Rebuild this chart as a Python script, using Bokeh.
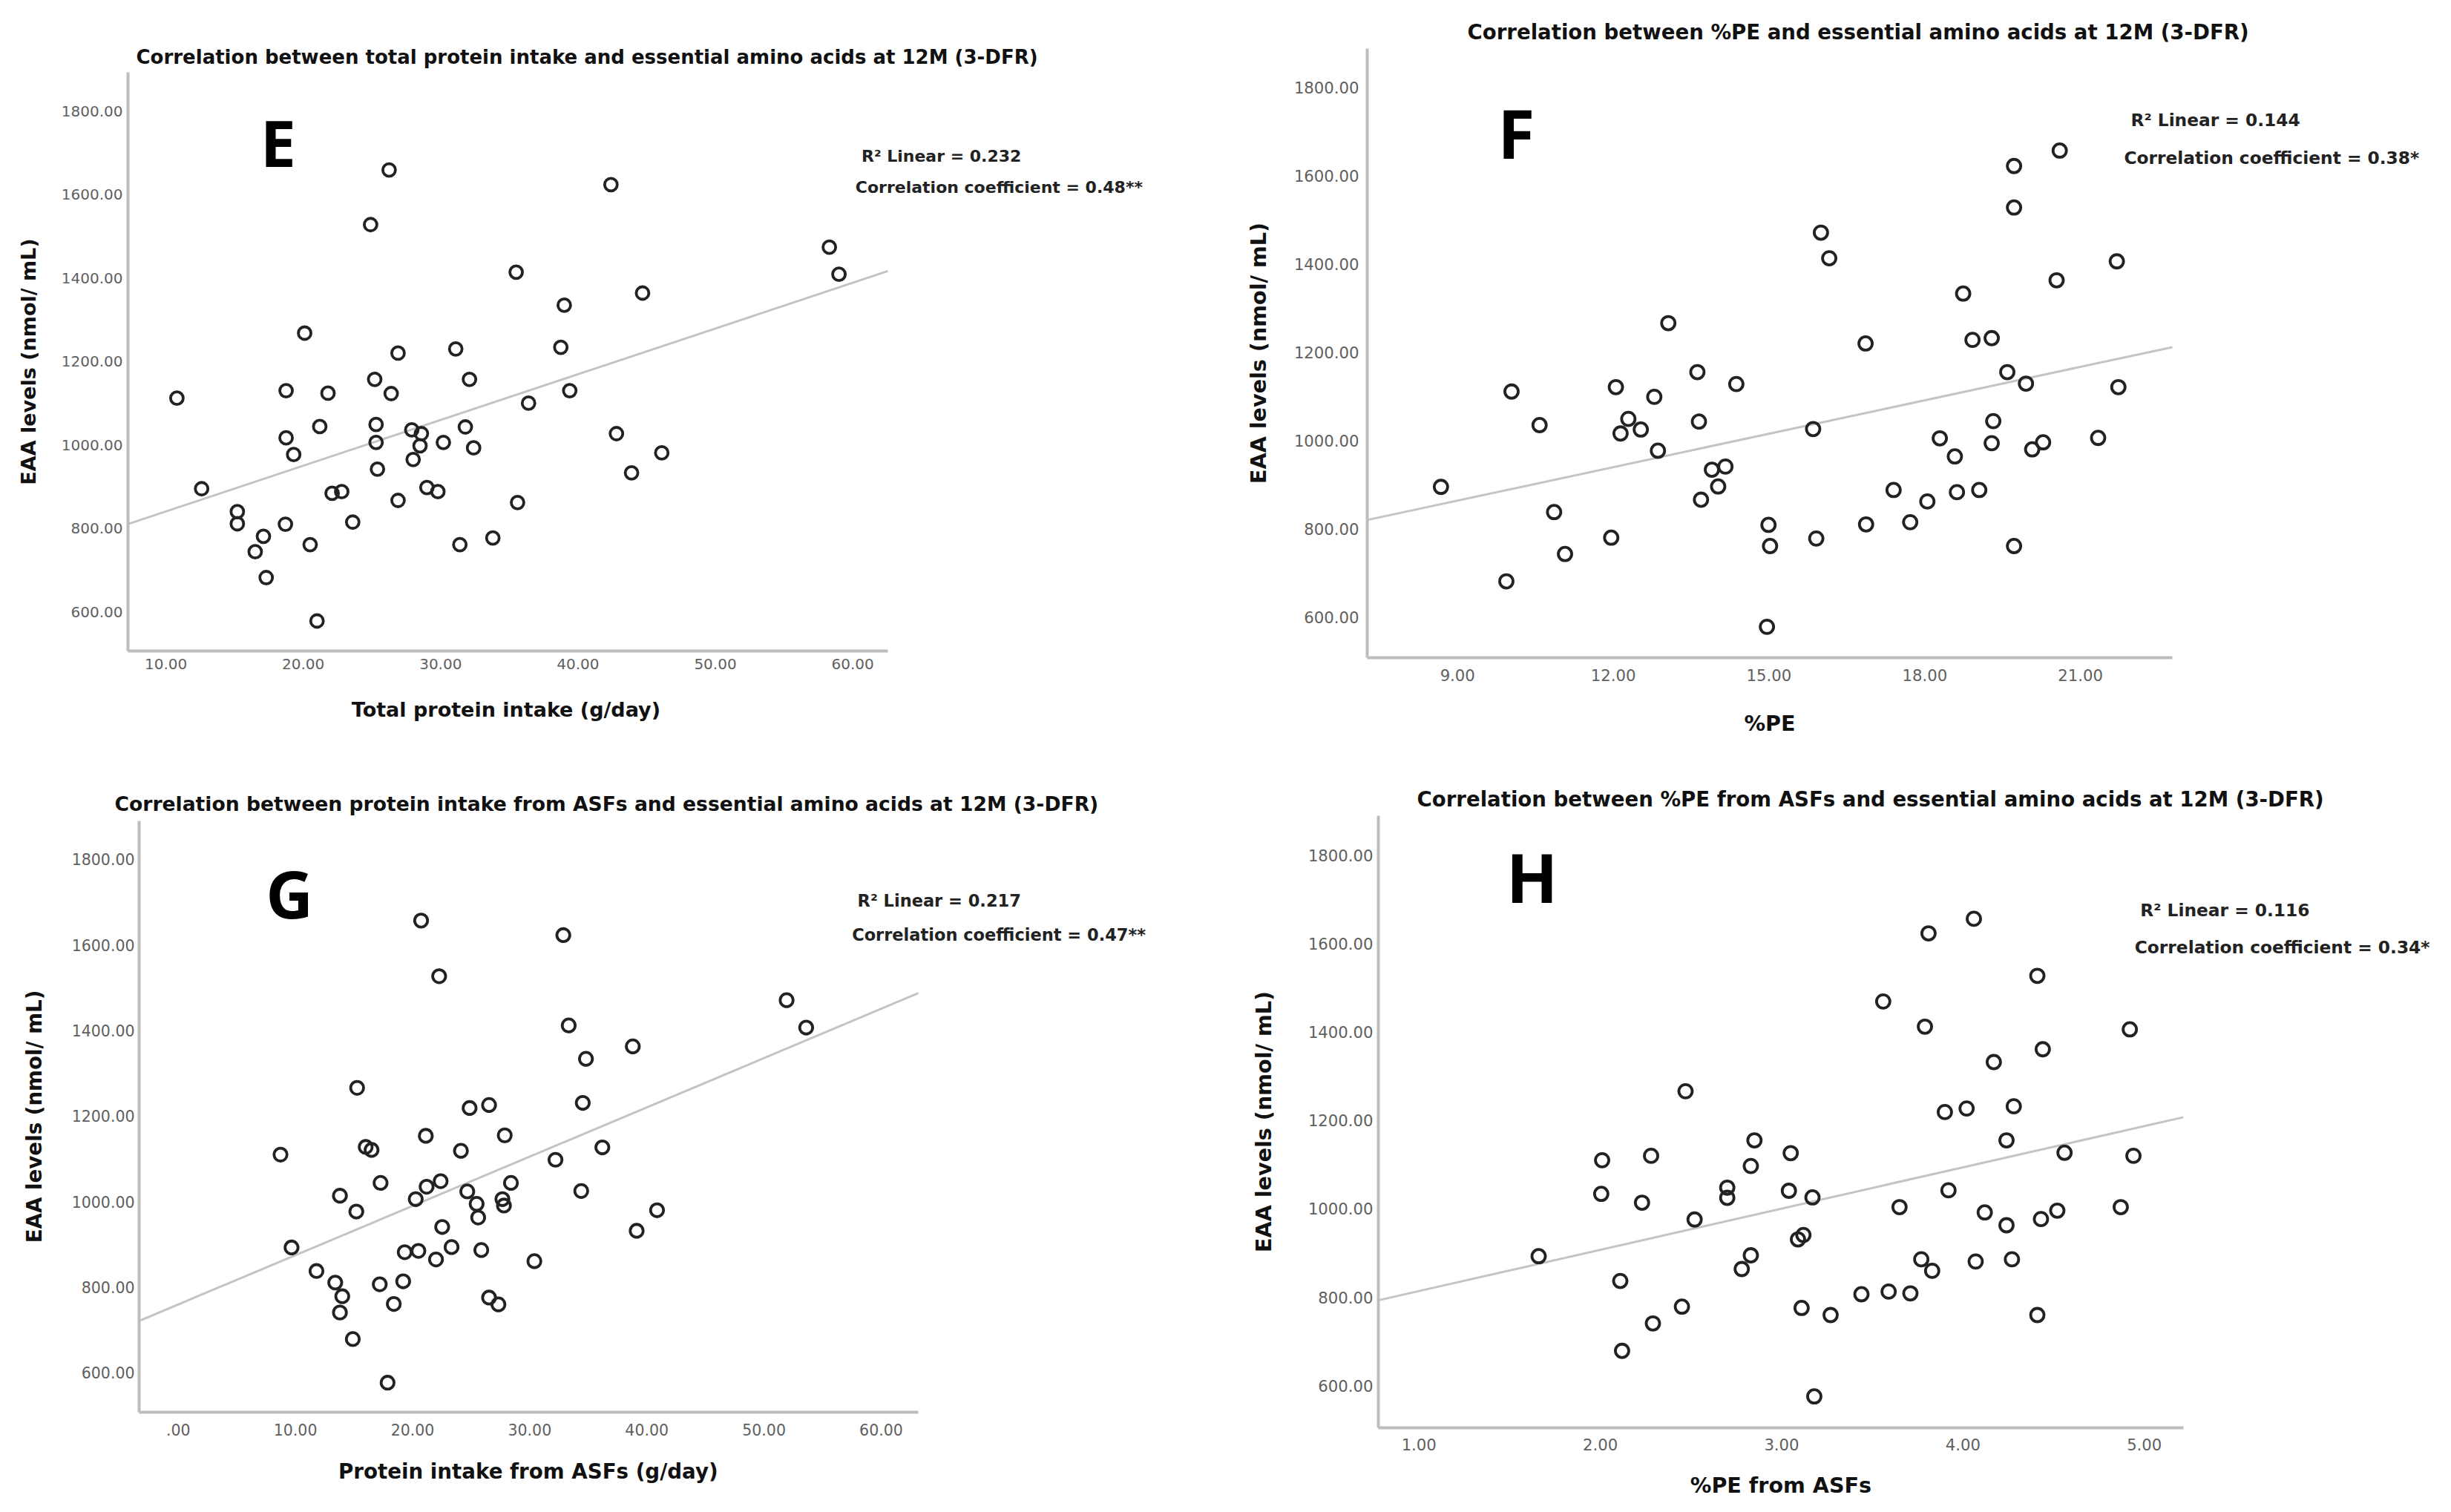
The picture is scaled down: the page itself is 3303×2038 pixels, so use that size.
import numpy as np
from bokeh.plotting import figure
from bokeh.layouts import column, row
from bokeh.models import Label, FixedTicker, Range1d, Title
from bokeh.embed import file_html
from bokeh.resources import INLINE

# ---- data (EAA in nmol/mL) ----
e_x = [10.8, 12.6, 15.2, 15.2, 17.1, 16.5, 17.3, 18.7, 18.75, 18.75, 19.3, 20.1, 20.5, 21.0,
       21.2, 21.8, 22.1, 22.8, 23.6, 24.9, 25.2, 25.3, 25.3, 25.4, 26.25, 26.4, 26.9, 26.9,
       27.9, 28.0, 28.6, 28.5, 29.0, 29.8, 30.2, 31.1, 31.4, 31.8, 32.1, 32.4, 33.8, 35.5,
       35.6, 36.4, 38.75, 39.0, 39.4, 42.4, 42.8, 43.9, 44.7, 46.1, 58.3, 59.0]
e_y = [1112, 895, 840, 811, 781, 744, 682, 810, 1130, 1017, 977, 1268, 761, 578,
       1044, 1124, 884, 888, 815, 1528, 1157, 1049, 1006, 942, 1659, 1123, 1220, 867,
       1036, 965, 1027, 998, 898, 888, 1006, 1230, 761, 1043, 1157, 993, 777, 1414,
       862, 1100, 1234, 1335, 1130, 1624, 1027, 933, 1364, 981, 1474, 1409]

f_x = [8.68, 9.94, 10.04, 10.58, 10.86, 11.07, 11.96, 12.05, 12.14, 12.29, 12.53, 12.79,
       12.86, 13.06, 13.62, 13.65, 13.69, 13.9, 14.02, 14.16, 14.37, 14.96, 14.99, 15.02,
       15.85, 15.91, 16.0, 16.16, 16.86, 16.87, 17.4, 17.72, 18.05, 18.29, 18.58, 18.62,
       18.74, 18.92, 19.05, 19.29, 19.29, 19.32, 19.59, 19.72, 19.72, 19.72, 19.95, 20.07,
       20.28, 20.54, 20.6, 21.34, 21.7, 21.73]
f_y = [895, 681, 1111, 1035, 838, 743, 780, 1121, 1016, 1049, 1025, 1099,
       977, 1266, 1155, 1043, 866, 934, 896, 941, 1128, 578, 809, 761,
       1026, 778, 1471, 1413, 1220, 810, 888, 815, 862, 1005, 964, 883,
       1333, 1228, 888, 994, 1232, 1044, 1155, 1622, 1528, 761, 1129, 980,
       996, 1363, 1657, 1006, 1406, 1121]

g_x = [8.73, 9.67, 11.8, 13.4, 13.8, 14.0, 13.8, 14.9, 15.2, 15.27, 16.0, 16.5, 17.2, 17.27,
       17.87, 18.4, 19.2, 19.33, 20.27, 20.5, 20.73, 21.13, 21.2, 22.0, 22.27, 22.4, 22.53,
       23.33, 24.13, 24.67, 24.87, 25.47, 25.6, 25.87, 26.53, 26.53, 27.33, 27.67, 27.8,
       27.87, 28.4, 30.4, 32.2, 32.87, 33.33, 34.4, 34.53, 34.8, 36.2, 38.8, 39.13, 40.87,
       51.93, 53.6]
g_y = [1110, 893, 838, 811, 1014, 779, 741, 679, 977, 1266, 1128, 1121, 807, 1044,
       577, 761, 814, 882, 1006, 885, 1657, 1154, 1035, 865, 1527, 1048, 941,
       894, 1119, 1024, 1219, 995, 963, 887, 1226, 776, 760, 1006, 991,
       1155, 1044, 861, 1098, 1623, 1412, 1025, 1231, 1334, 1127, 1363, 932, 980,
       1471, 1407]

h_x = [1.66, 2.01, 2.005, 2.11, 2.12, 2.23, 2.28, 2.29, 2.45, 2.47, 2.52, 2.70, 2.70, 2.78,
       2.83, 2.83, 2.85, 3.04, 3.05, 3.09, 3.12, 3.11, 3.17, 3.18, 3.27, 3.44, 3.56, 3.59,
       3.65, 3.71, 3.77, 3.79, 3.81, 3.83, 3.90, 3.92, 4.02, 4.06, 4.07, 4.12, 4.17, 4.24,
       4.24, 4.27, 4.28, 4.41, 4.41, 4.43, 4.44, 4.52, 4.56, 4.87, 4.92, 4.94]
h_y = [893, 1110, 1034, 837, 679, 1014, 1120, 741, 779, 1266, 976, 1025, 1048, 864,
       1097, 895, 1155, 1041, 1126, 931, 941, 776, 1026, 576, 760, 807, 1469, 813,
       1004, 809, 886, 1412, 1623, 860, 1219, 1042, 1227, 1656, 881, 992, 1332, 1155,
       963, 886, 1232, 1527, 760, 977, 1361, 996, 1127, 1004, 1406, 1120]

# ---- texts and ticks ----
y_ticks = [600, 800, 1000, 1200, 1400, 1600, 1800]
e_ticks = [10, 20, 30, 40, 50, 60]
f_ticks = [9, 12, 15, 18, 21]
g_ticks = [0, 10, 20, 30, 40, 50, 60]
h_ticks = [1, 2, 3, 4, 5]

titles = [
    "Correlation between total protein intake and essential amino acids at 12M (3-DFR)",
    "Correlation between %PE and essential amino acids at 12M (3-DFR)",
    "Correlation between protein intake from ASFs and essential amino acids at 12M (3-DFR)",
    "Correlation between %PE from ASFs and essential amino acids at 12M (3-DFR)",
]
x_titles = ["Total protein intake (g/day)", "%PE", "Protein intake from ASFs (g/day)", "%PE from ASFs"]
y_title = "EAA levels (nmol/ mL)"
letters = ["E", "F", "G", "H"]
r2_texts = ["R² Linear = 0.232", "R² Linear = 0.144", "R² Linear = 0.217", "R² Linear = 0.116"]
cc_texts = ["Correlation coefficient = 0.48**", "Correlation coefficient = 0.38*",
            "Correlation coefficient = 0.47**", "Correlation coefficient = 0.34*"]

FONT = "DejaVu Sans"
LINE_H = 1.164  # DejaVu ascent + descent, in em

# rough advance widths (em) of DejaVu Sans Bold, used to centre the x titles under the axis
ADV = {" ": .348, "%": 1.002, "(": .457, ")": .457, "/": .365, "A": .774, "E": .683, "F": .683,
       "P": .733, "S": .720, "T": .682, "a": .675, "d": .716, "e": .678, "f": .435, "g": .716,
       "i": .343, "k": .665, "l": .343, "m": 1.042, "n": .712, "o": .687, "p": .716, "r": .493,
       "s": .595, "t": .478, "y": .652}


def text_w(s, size):
    return sum(ADV.get(c, .65) for c in s) * size


def fmt(v):
    s = "%.2f" % v
    return s[1:] if s.startswith("0.") else s


def px(v):
    return "%.1fpx" % v


def panel(i, xs, ys, xticks, xr, axis_w, yr, size, borders, sc, title_off, title_standoff,
          letter_pos, r2_pos, cc_pos, xt_center, yl_std, xt_std, yt_std):
    w, h = size
    bl, bt, bb = borders
    br = 4
    tick_fs, xt_fs = 20 * sc, 27 * sc
    # the frame runs on to the right edge so the R² notes are not clipped;
    # the x axis itself is bounded to its own extent
    per_px = (xr[1] - xr[0]) / axis_w
    x_end = xr[0] + (w - bl - br) * per_px
    p = figure(width=w, height=h, x_range=Range1d(xr[0], x_end), y_range=Range1d(*yr),
               output_backend="svg", toolbar_location=None,
               min_border_left=bl, min_border_right=br, min_border_top=bt, min_border_bottom=bb)
    p.outline_line_color = None
    p.grid.visible = False

    p.title.text = titles[i]
    p.title.text_font = FONT
    p.title.text_font_size = px(26 * sc)
    p.title.text_font_style = "bold"
    p.title.text_color = "#111111"
    p.title.align = "left"
    p.title.offset = title_off
    p.title.standoff = title_standoff

    for ax, tstd in ((p.xaxis, xt_std), (p.yaxis, yt_std)):
        ax.major_label_text_font = FONT
        ax.major_label_text_font_size = px(tick_fs)
        ax.major_label_text_color = "#606060"
        ax.major_label_standoff = tstd
        ax.axis_line_color = "#bdbdbd"
        ax.axis_line_width = 4
        ax.major_tick_line_color = None
        ax.minor_tick_line_color = None
        ax.major_tick_out = 0
        ax.major_tick_in = 0

    p.yaxis.axis_label = y_title
    p.yaxis.axis_label_text_font = FONT
    p.yaxis.axis_label_text_font_size = px(xt_fs)
    p.yaxis.axis_label_text_font_style = "bold"
    p.yaxis.axis_label_text_color = "#111111"
    p.yaxis.axis_label_standoff = yl_std

    # x title sits under the bounded axis, not under the whole frame;
    # a blank spacer pushes it down to where the original has it
    axis_h = xt_std + LINE_H * tick_fs
    gap = max(0, xt_center - axis_h - 3 - LINE_H * xt_fs / 2)
    p.add_layout(Title(text=" ", text_font_size="1px", standoff=gap), "below")
    p.add_layout(Title(text=x_titles[i], align="left", vertical_align="top",
                       offset=(axis_w - text_w(x_titles[i], xt_fs)) / 2, standoff=0,
                       text_font=FONT, text_font_size=px(xt_fs), text_font_style="bold",
                       text_color="#111111"), "below")

    p.xaxis.bounds = (xr[0], xr[1])
    p.xaxis.ticker = FixedTicker(ticks=xticks)
    p.xaxis.major_label_overrides = {t: fmt(t) for t in xticks}
    p.yaxis.ticker = FixedTicker(ticks=y_ticks)
    p.yaxis.major_label_overrides = {t: fmt(t) for t in y_ticks}

    # fit line from the plotted points
    k, b = np.polyfit(xs, ys, 1)
    lx = np.array(xr)
    p.line(lx, k * lx + b, line_color="#c4c4c4", line_width=3)

    p.scatter(xs, ys, marker="circle", size=17 * sc, fill_color=None,
              line_color="#222222", line_width=3.8)

    p.add_layout(Label(x=letter_pos[0], y=letter_pos[1], text=letters[i],
                       text_font="Open Sans", text_font_size=px(86 * sc), text_font_style="bold",
                       text_color="#000000", text_align="center", text_baseline="middle"))
    for pos, txt in ((r2_pos, r2_texts[i]), (cc_pos, cc_texts[i])):
        p.add_layout(Label(x=pos[0], y=pos[1], text=txt, text_font=FONT,
                           text_font_size=px(22 * sc), text_font_style="bold",
                           text_color="#222222", text_align="left", text_baseline="middle"))
    return p


pE = panel(0, e_x, e_y, e_ticks, (7.24, 62.56), 1024, (506, 1893), (1648, 1014),
           (172, 97, 137), 1.0, 11, 12, (18.17, 1726), (60.64, 1692), (60.20, 1617),
           85, 26, 10, 7)
pF = panel(1, f_x, f_y, f_ticks, (7.26, 22.77), 1085, (508, 1888), (1639, 1014),
           (194, 65, 128), 1.06, 135, 12, (10.13, 1698), (21.97, 1727), (21.84, 1641),
           93, 28, 15, 11)
pG = panel(2, g_x, g_y, g_ticks, (-3.34, 63.17), 1050, (508, 1890), (1648, 1008),
           (187, 92, 119), 1.025, -33, 15, (9.49, 1721), (57.98, 1704), (57.51, 1623),
           84, 31, 15, 6)
pH = panel(3, h_x, h_y, h_ticks, (0.776, 5.216), 1085, (505, 1889), (1639, 1008),
           (209, 85, 98), 1.06, 52, 11, (1.624, 1750), (4.978, 1676), (4.947, 1592),
           82, 40, 14, 7)

# each plot in its own column so the rows do not line up the plot frames
layout = column(row(column(pE), column(pF)), row(column(pG), column(pH)))
open("out.html", "w").write(file_html(layout, INLINE))
